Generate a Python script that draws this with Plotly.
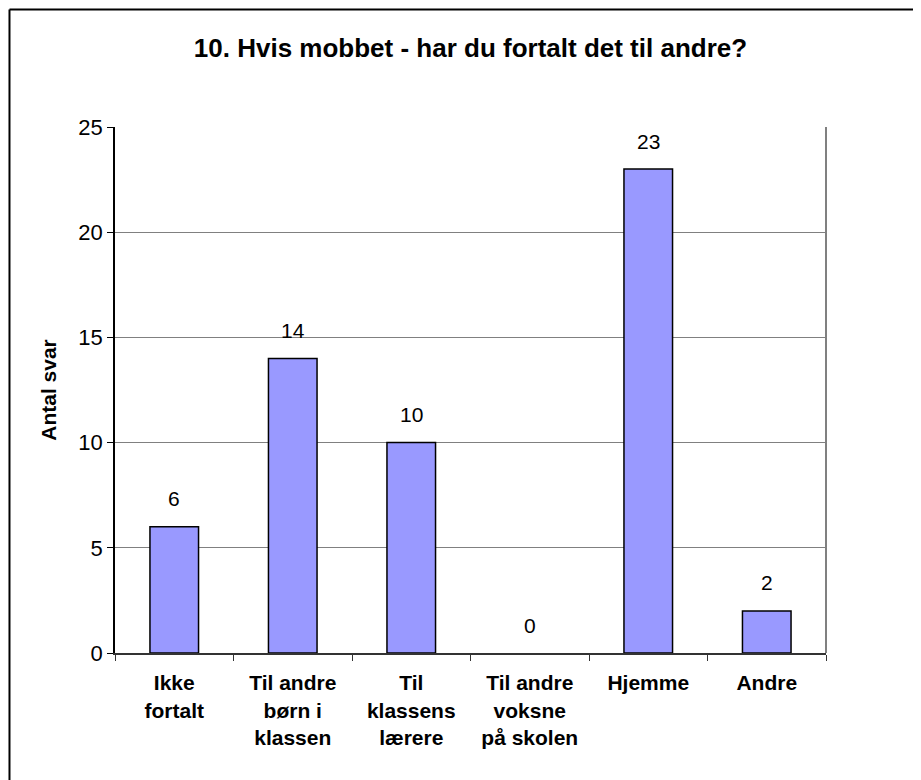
"""Bar chart: 10. Hvis mobbet - har du fortalt det til andre?"""

import plotly.graph_objects as go

categories = [
    "Ikke<br>fortalt",
    "Til andre<br>børn i<br>klassen",
    "Til<br>klassens<br>lærere",
    "Til andre<br>voksne<br>på skolen",
    "Hjemme",
    "Andre",
]
answers = [6, 14, 10, 0, 23, 2]
y_ticks = [0, 5, 10, 15, 20, 25]

FONT = "Liberation Sans, Arial, sans-serif"
BAR_COLOR = "#9999FF"

fig = go.Figure(go.Bar(
    x=categories,
    y=answers,
    marker=dict(
        color=BAR_COLOR,
        # no outline for empty bars, like the original
        line=dict(color="black", width=[1.5 if v else 0 for v in answers]),
    ),
    width=0.41,
))

# value labels above the bars
for cat, val in zip(categories, answers):
    fig.add_annotation(
        x=cat, y=val, text=str(val), showarrow=False,
        yanchor="middle", yshift=28,
        font=dict(family=FONT, size=21, color="black"),
    )

fig.update_layout(
    width=921,
    height=780,
    margin=dict(l=107, r=103, t=119, b=135),
    paper_bgcolor="white",
    plot_bgcolor="white",
    showlegend=False,
    title=dict(
        text="<b>10. Hvis mobbet - har du fortalt det til andre?</b>",
        x=462.5 / 921, xanchor="center",
        y=1 - 40 / 780, yanchor="middle",
        font=dict(family=FONT, size=26, color="black"),
    ),
    font=dict(family=FONT, color="black"),
)

fig.update_xaxes(
    type="category",
    tickson="boundaries",
    ticks="outside",
    ticklen=6,
    tickcolor="#333333",
    showline=True,
    linecolor="#333333",
    linewidth=2,
    showgrid=False,
    tickfont=dict(family=FONT, size=21, color="black", weight="bold"),
    ticklabelstandoff=10,
)

fig.update_yaxes(
    range=[0, 25],
    tickvals=y_ticks,
    ticks="outside",
    ticklen=6,
    tickcolor="black",
    showline=True,
    linecolor="black",
    linewidth=1.5,
    showgrid=True,
    gridcolor="#808080",
    gridwidth=1,
    zeroline=False,
    tickfont=dict(family=FONT, size=22, color="black"),
    title=dict(
        text="<b>Antal svar</b>",
        font=dict(family=FONT, size=21, color="black"),
        standoff=16,
    ),
)

# right edge of plot area
fig.add_shape(type="line", xref="paper", yref="paper",
              x0=1, x1=1, y0=0, y1=1,
              line=dict(color="#808080", width=2))
# outer chart border (top and left edges visible in the crop)
fig.add_shape(type="line", xref="paper", yref="paper",
              x0=-0.1484, x1=1.14, y0=1.2234, y1=1.2234,
              line=dict(color="black", width=2))
fig.add_shape(type="line", xref="paper", yref="paper",
              x0=-0.1484, x1=-0.1484, y0=-0.25, y1=1.2234,
              line=dict(color="black", width=2))

fig.write_html("out.html")
